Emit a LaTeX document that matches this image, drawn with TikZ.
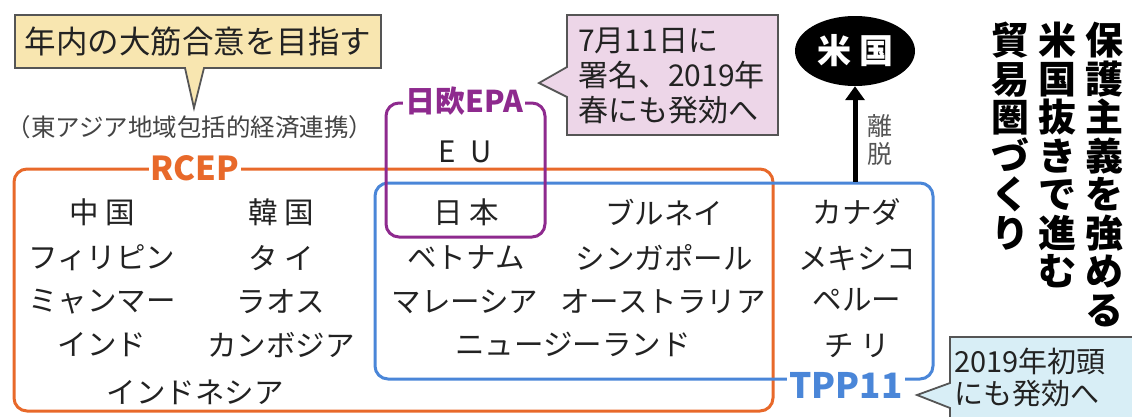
\documentclass[tikz,border=0pt]{standalone}
\usepackage{fontspec}
\setmainfont{Noto Sans CJK JP}
\usetikzlibrary{shapes.geometric,arrows.meta}
\definecolor{rcepc}{HTML}{E8692A}
\definecolor{tppc}{HTML}{4A86D8}
\definecolor{epac}{HTML}{8E2A8E}
\definecolor{yelc}{HTML}{F8E6B0}
\definecolor{pnkc}{HTML}{EDD6E8}
\definecolor{lblc}{HTML}{D8EEF6}
\definecolor{edgec}{HTML}{555555}
\definecolor{txtc}{HTML}{222222}
\newcommand{\fz}[2]{\fontsize{#1}{#2}\selectfont}
\begin{document}
\begin{tikzpicture}[x=1pt,y=-1pt,
  country/.style={font=\fz{29.5}{30}, text=txtc, inner sep=0pt},
  groupbox/.style={draw, line width=3pt, rounded corners=13pt},
  grouplabel/.style={fill=white, inner sep=2pt, font=\fz{33}{33}\bfseries},
  callout/.style={draw=edgec, line width=1.8pt, line join=miter},
  title/.style={align=center, font=\fz{38}{38.5}\bfseries, text=black, inner sep=0pt, anchor=north}
]
\useasboundingbox (0,0) rectangle (1132,416);

% group boxes
\node[groupbox, draw=rcepc, minimum width=759pt, minimum height=242pt] (rcep) at (393.5,290) {};
\node[groupbox, draw=tppc, minimum width=558pt, minimum height=196pt] (tpp) at (654,281) {};
\node[groupbox, draw=epac, minimum width=159pt, minimum height=134pt] (epa) at (465.5,170) {};

% group labels
\node[grouplabel, text=rcepc] (rceplbl) at (195,168) {RCEP};
\node[grouplabel, text=tppc, font=\fz{35}{35}\bfseries] (tpplbl) at (846,385) {TPP11};
\node[grouplabel, text=epac, font=\fz{30}{30}\bfseries] (epalbl) at (464,101) {日欧EPA};

% callouts
\draw[callout, fill=yelc] (15,15) -- (381,15) -- (381,68) -- (204,68) -- (194,108) -- (185,68) -- (15,68) -- cycle;
\node[font=\fz{31.5}{31.5}, text=txtc] (goal) at (198,42) {年内の大筋合意を目指す};
\node[font=\fz{24.5}{25}, text=edgec!80!black] (rcepfull) at (190,127) {（東アジア地域包括的経済連携）};

\draw[callout, fill=pnkc] (567,15) -- (778,15) -- (778,135) -- (567,135) -- (567,97) -- (539,83) -- (567,67) -- cycle;
\node[anchor=west, align=left, font=\fz{30}{35}, text=txtc, inner sep=0pt] (epanote) at (578,76) {7月11日に\\署名、2019年\\春にも発効へ};

\draw[callout, fill=lblc] (950,337) -- (1140,337) -- (1140,420) -- (950,420) -- (950,408) -- (917,395) -- (950,383) -- cycle;
\node[anchor=west, align=left, font=\fz{29}{32}, text=txtc, inner sep=0pt] (tppnote) at (954,377) {2019年初頭\\にも発効へ};

% RCEP-only countries
\node[country] (cn) at (102,212) {中 国};
\node[country] (ph) at (102,258) {フィリピン};
\node[country] (mm) at (102,302) {ミャンマー};
\node[country] (in) at (102,345) {インド};
\node[country] (kr) at (281,212) {韓 国};
\node[country] (th) at (281,258) {タ イ};
\node[country] (la) at (281,302) {ラオス};
\node[country] (kh) at (281,345) {カンボジア};
\node[country] (id) at (195,392) {インドネシア};

% EU
\node[country] (eu) at (465,152) {E\hspace{14pt}U};

% RCEP & TPP
\node[country] (jp) at (466,212) {日 本};
\node[country] (bn) at (664,212) {ブルネイ};
\node[country] (vn) at (466,258) {ベトナム};
\node[country] (sg) at (664,258) {シンガポール};
\node[country] (my) at (465,302) {マレーシア};
\node[country] (au) at (663,302) {オーストラリア};
\node[country] (nz) at (573,344) {ニュージーランド};

% TPP-only
\node[country] (ca) at (857,212) {カナダ};
\node[country] (mx) at (857,258) {メキシコ};
\node[country] (pe) at (857,300) {ペルー};
\node[country] (cl) at (857,346) {チ リ};

% USA
\node[ellipse, fill=black, minimum width=120pt, minimum height=70pt, inner sep=0pt, text=white, font=\fz{34}{34}\bfseries] (us) at (855,51) {米\hspace{8pt}国};
\draw[line width=5pt, -{Triangle[length=14pt,width=19pt]}] (tpp.north -| us.south) -- (us.south);
\node[align=center, font=\fz{25}{28}, text=edgec, inner sep=0pt] (leave) at (880,140) {離\\脱};

% title
\node[title] (t1) at (1104,22) {保\\護\\主\\義\\を\\強\\め\\る};
\node[title] (t2) at (1057,22) {米\\国\\抜\\き\\で\\進\\む};
\node[title] (t3) at (1010,22) {貿\\易\\圏\\づ\\く\\り};
\end{tikzpicture}
\end{document}
